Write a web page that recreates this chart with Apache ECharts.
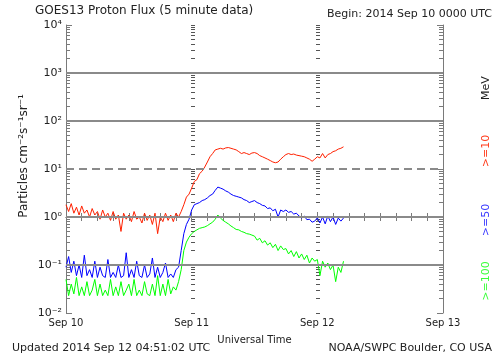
<!DOCTYPE html>
<html><head><meta charset="utf-8">
<script src="https://cdn.jsdelivr.net/npm/echarts@6/dist/echarts.min.js"></script>
<style>html,body{margin:0;padding:0;background:#fff}#c{width:503px;height:360px}</style>
</head><body><div id="c"></div>
<script>
// x axis: hours since 2014 Sep 10 00:00 UTC
const xTickLabels = ['Sep 10', 'Sep 11', 'Sep 12', 'Sep 13'];
const yTickLabels = ['10\u207B\u00B2', '10\u207B\u00B9', '10\u2070', '10\u00B9', '10\u00B2', '10\u00B3', '10\u2074'];
const stepHours = 0.5;

// >=10 MeV
const p10 = [
  1.8,1.3,1.9,1.2,1.6,1.1,1.7,1.2,1.4,1.0,1.5,1.1,
  1.3,0.9,1.4,1.0,1.2,0.85,1.3,0.9,1.1,0.5,1.2,0.9,
  1.1,0.8,1.3,0.9,1.0,0.75,1.2,0.85,1.1,0.7,1.2,0.45,
  1.0,0.8,1.2,0.85,1.1,0.8,1.2,1.0,1.3,1.8,2.6,3.0,
  4.0,5.5,6.0,8.0,9.0,11,14,18,21,25,26,27,
  26,27.5,28,27,26,25,23,21,22,21,20,21.5,
  22,21,19,18,17,16,15,14,13.5,14,16,18,
  20,21,20,20.5,19.5,19,18.5,18,17,16,14.5,16,
  18,17,21,17,20,21,23,24,26,27,29
];
// >=50 MeV
const p50 = [
  0.09,0.15,0.07,0.12,0.06,0.1,0.055,0.16,0.06,0.08,0.055,0.12,
  0.055,0.09,0.06,0.055,0.13,0.055,0.07,0.055,0.1,0.055,0.06,0.18,
  0.055,0.08,0.055,0.12,0.06,0.055,0.1,0.055,0.065,0.14,0.055,0.09,
  0.055,0.07,0.11,0.055,0.065,0.055,0.08,0.09,0.2,0.45,0.7,0.9,
  1.4,1.8,1.9,2.0,2.2,2.3,2.5,2.8,3.0,3.6,4.2,4.0,
  3.8,3.5,3.3,3.0,2.8,2.7,2.6,2.5,2.3,2.2,2.0,2.1,
  2.2,2.0,1.9,1.75,1.7,1.5,1.55,1.35,1.45,1.0,1.4,1.3,
  1.4,1.25,1.3,1.15,1.2,1.05,0.95,1.05,0.88,0.9,0.78,0.82,
  0.96,0.75,1.0,0.72,1.05,0.8,1.0,0.7,0.95,0.82,0.95
];
// >=100 MeV
const p100 = [
  0.05,0.023,0.04,0.025,0.055,0.023,0.035,0.023,0.045,0.023,0.03,0.05,
  0.023,0.04,0.023,0.03,0.023,0.05,0.023,0.035,0.023,0.045,0.023,0.03,
  0.04,0.023,0.05,0.023,0.03,0.023,0.045,0.025,0.023,0.04,0.023,0.06,
  0.023,0.04,0.023,0.05,0.025,0.035,0.03,0.045,0.08,0.2,0.3,0.38,
  0.45,0.5,0.54,0.58,0.6,0.62,0.66,0.72,0.78,0.9,1.1,0.95,
  0.85,0.78,0.72,0.65,0.6,0.55,0.54,0.5,0.48,0.45,0.44,0.42,
  0.4,0.33,0.36,0.29,0.32,0.26,0.29,0.23,0.27,0.2,0.25,0.21,
  0.22,0.17,0.2,0.15,0.19,0.14,0.17,0.13,0.16,0.11,0.14,0.12,
  0.13,0.06,0.12,0.09,0.11,0.08,0.1,0.045,0.09,0.07,0.12
];
const gridSolid = [1000, 100, 1, 0.1];
const gridDashed = [10];

const FONT = 'DejaVu Sans';
const AX = '#7a7a7a';
// decoration tick positions, in decade (log10) units
const minorExp = [];
for (let e = -2; e < 4; e++) {
  for (let k = 2; k <= 9; k++) { minorExp.push(e + Math.log10(k)); }
}
const decadeExp = [-2, -1, 0, 1, 2, 3, 4];
const colExp = minorExp.concat(decadeExp).sort((a, b) => a - b);

function decoAxis(extra, vals, len, color) {
  return Object.assign({
    type: 'value', min: -2, max: 4,
    axisLine: { show: false }, axisLabel: { show: false },
    splitLine: { show: false }, minorTick: { show: false },
    axisTick: { show: true, inside: true, length: len, customValues: vals, lineStyle: { color: color } }
  }, extra);
}
const toPairs = arr => arr.map((v, i) => [i * stepHours, v]);

const chart = echarts.init(document.getElementById('c'), null, { renderer: 'canvas' });
chart.setOption({
  animation: false,
  backgroundColor: '#fff',
  textStyle: { fontFamily: FONT },
  grid: { left: 66, right: 60, top: 25, bottom: 47, containLabel: false, outerBoundsMode: 'none' },
  title: [
    { text: 'GOES13 Proton Flux (5 minute data)', left: 35, top: 5, padding: 0,
      textStyle: { fontFamily: FONT, fontSize: 12, fontWeight: 'normal', color: '#222' } },
    { text: 'Begin: 2014 Sep 10 0000 UTC', right: 11, top: 9, padding: 0,
      textStyle: { fontFamily: FONT, fontSize: 11, fontWeight: 'normal', color: '#222' } },
    { text: 'Updated 2014 Sep 12 04:51:02 UTC', left: 12, top: 343, padding: 0,
      textStyle: { fontFamily: FONT, fontSize: 11, fontWeight: 'normal', color: '#222' } },
    { text: 'NOAA/SWPC Boulder, CO USA', right: 11, top: 343, padding: 0,
      textStyle: { fontFamily: FONT, fontSize: 11, fontWeight: 'normal', color: '#222' } }
  ],
  graphic: [
    { type: 'text', x: 24, y: 156, rotation: Math.PI / 2,
      style: { text: 'Particles cm\u207B\u00B2s\u207B\u00B9sr\u207B\u00B9', font: '12px "DejaVu Sans"', fill: '#222', align: 'center', verticalAlign: 'middle' } },
    { type: 'text', x: 486, y: 88, rotation: Math.PI / 2,
      style: { text: 'MeV', font: '11px "DejaVu Sans"', fill: '#222', align: 'center', verticalAlign: 'middle' } },
    { type: 'text', x: 486, y: 151, rotation: Math.PI / 2,
      style: { text: '>=10', font: '11px "DejaVu Sans"', fill: '#ff3a1a', align: 'center', verticalAlign: 'middle' } },
    { type: 'text', x: 486, y: 220, rotation: Math.PI / 2,
      style: { text: '>=50', font: '11px "DejaVu Sans"', fill: '#3a3aff', align: 'center', verticalAlign: 'middle' } },
    { type: 'text', x: 486, y: 281, rotation: Math.PI / 2,
      style: { text: '>=100', font: '11px "DejaVu Sans"', fill: '#3aff3a', align: 'center', verticalAlign: 'middle' } }
  ],
  xAxis: [
    { type: 'value', min: 0, max: 72, interval: 24, position: 'bottom',
      axisLine: { show: true, lineStyle: { color: AX, width: 1 } },
      axisTick: { show: true, inside: true, length: 5, lineStyle: { color: AX } },
      minorTick: { show: true, splitNumber: 8, length: 4, lineStyle: { color: AX } },
      splitLine: { show: false },
      axisLabel: { margin: 5, fontSize: 10, color: '#222', fontFamily: FONT,
        formatter: v => xTickLabels[Math.round(v / 24)] },
      name: 'Universal Time', nameLocation: 'middle', nameGap: 22,
      nameTextStyle: { fontSize: 10, color: '#222', fontFamily: FONT } },
    { type: 'value', min: 0, max: 72, interval: 24, position: 'top',
      axisLine: { show: true, lineStyle: { color: AX, width: 1 } },
      axisTick: { show: true, inside: true, length: 5, lineStyle: { color: AX } },
      minorTick: { show: true, splitNumber: 8, length: 4, lineStyle: { color: AX } },
      splitLine: { show: false }, axisLabel: { show: false } }
  ],
  yAxis: [
    { type: 'log', logBase: 10, min: 0.01, max: 10000, position: 'left',
      axisLine: { show: true, lineStyle: { color: AX, width: 1 } },
      axisTick: { show: true, inside: true, length: 6, lineStyle: { color: AX } },
      minorTick: { show: false }, splitLine: { show: false },
      axisLabel: { show: true, margin: 4, fontSize: 11, color: '#222', fontFamily: FONT,
        formatter: v => yTickLabels[Math.round(Math.log10(v)) + 2] } },
    decoAxis({ position: 'left' }, minorExp, 4, AX),
    decoAxis({ position: 'right', axisLine: { show: true, lineStyle: { color: AX, width: 1 } } }, decadeExp, 6, AX),
    decoAxis({ position: 'right' }, minorExp, 4, AX),
    decoAxis({ position: 'left', offset: -125 }, colExp, 4, '#555'),
    decoAxis({ position: 'left', offset: -250 }, colExp, 4, '#555')
  ],
  series: [
    { type: 'line', data: [], z: 1, silent: true,
      markLine: { silent: true, symbol: ['none', 'none'], label: { show: false }, animation: false,
        lineStyle: { color: '#8a8a8a', width: 2, type: 'solid' },
        data: gridSolid.map(v => ({ yAxis: v })).concat(
          gridDashed.map(v => ({ yAxis: v, lineStyle: { type: [8, 5], color: '#8a8a8a', width: 2 } }))) } },
    { name: '>=10', type: 'line', data: toPairs(p10), showSymbol: false, z: 3,
      lineStyle: { color: '#ff2000', width: 1 } },
    { name: '>=50', type: 'line', data: toPairs(p50), showSymbol: false, z: 3,
      lineStyle: { color: '#0000ff', width: 1 } },
    { name: '>=100', type: 'line', data: toPairs(p100), showSymbol: false, z: 3,
      lineStyle: { color: '#00ff00', width: 1 } }
  ]
});
</script>
</body></html>
